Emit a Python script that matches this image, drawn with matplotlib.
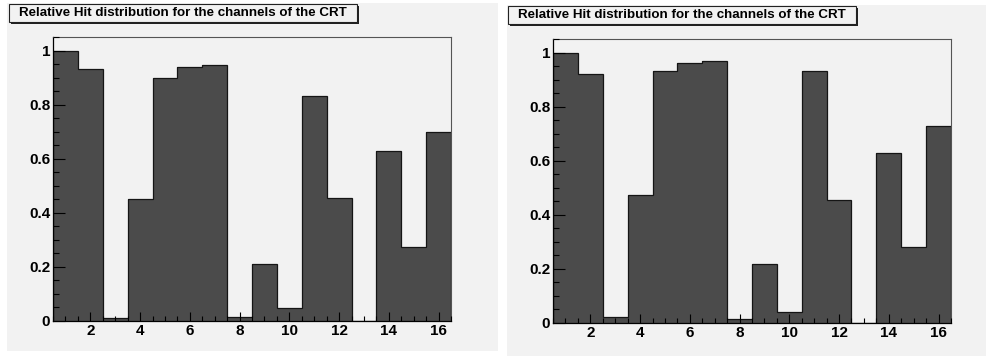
import matplotlib
matplotlib.use("Agg")
import matplotlib.pyplot as plt
import numpy as np
from matplotlib.patches import Rectangle
from matplotlib.ticker import MultipleLocator, FuncFormatter

plt.rcParams["font.family"] = ["Liberation Sans", "DejaVu Sans"]
plt.rcParams["font.weight"] = "bold"

W, H = 986, 356

title = "Relative Hit distribution for the channels of the CRT"
channels = np.arange(1, 17)
edges = np.arange(0.5, 17.0, 1.0)

# relative hits per CRT channel, two runs
hits_left = [1.0, 0.931, 0.012, 0.45, 0.90, 0.94, 0.947, 0.015,
             0.209, 0.047, 0.831, 0.454, 0.0, 0.627, 0.273, 0.699]
hits_right = [1.0, 0.922, 0.022, 0.475, 0.931, 0.963, 0.968, 0.014,
              0.217, 0.042, 0.930, 0.454, 0.0, 0.630, 0.282, 0.730]

PAD_BG = "#f2f2f2"
FILL = "#4b4b4b"


def px_rect(fig, x0, y0, x1, y1, **kw):
    # rectangle given in pixel coords, origin top-left
    r = Rectangle((x0 / W, 1 - y1 / H), (x1 - x0) / W, (y1 - y0) / H,
                  transform=fig.transFigure, **kw)
    fig.patches.append(r)
    return r


def title_box(fig, x0, y0, x1, y1, text):
    px_rect(fig, x0 + 2, y0 + 2, x1 + 2, y1 + 2, facecolor="#222222",
            edgecolor="none", zorder=1)
    px_rect(fig, x0, y0, x1, y1, facecolor=PAD_BG, edgecolor="#222222",
            linewidth=0.8, zorder=2)
    fig.text((x0 + x1) / 2 / W, 1 - (y0 + y1) / 2 / H, text,
             ha="center", va="center", fontsize=9.6, fontweight="bold",
             color="black", zorder=3)


def draw_hist(fig, box, values):
    x0, y0, x1, y1 = box
    ax = fig.add_axes([x0 / W, 1 - y1 / H, (x1 - x0) / W, (y1 - y0) / H])
    ax.set_facecolor(PAD_BG)
    ax.stairs(values, edges, fill=True, color=FILL, zorder=1)
    ax.stairs(values, edges, color="#151515", linewidth=0.9, zorder=1.2)
    ax.set_axisbelow(False)
    ax.set_xlim(edges[0], edges[-1])
    ax.set_ylim(0, 1.05 * max(values))

    ax.xaxis.set_major_locator(MultipleLocator(2))
    ax.xaxis.set_minor_locator(MultipleLocator(0.5))
    ax.yaxis.set_major_locator(MultipleLocator(0.2))
    ax.yaxis.set_minor_locator(MultipleLocator(0.05))
    ax.yaxis.set_major_formatter(FuncFormatter(lambda v, p: "%g" % round(v, 2)))

    ax.tick_params(axis="x", which="major", direction="in", length=6.5,
                   width=0.8, pad=2, labelsize=11, color="black")
    ax.tick_params(axis="x", which="minor", direction="in", length=3.5,
                   width=0.8, color="black")
    ax.tick_params(axis="y", which="major", direction="in", length=8.5,
                   width=0.8, pad=2, labelsize=11, color="black")
    ax.tick_params(axis="y", which="minor", direction="in", length=4.3,
                   width=0.8, color="black")
    for lab in ax.get_xticklabels() + ax.get_yticklabels():
        lab.set_fontweight("bold")

    for side in ("left", "bottom"):
        ax.spines[side].set_color("black")
        ax.spines[side].set_linewidth(0.9)
    for side in ("top", "right"):
        ax.spines[side].set_color("#555555")
        ax.spines[side].set_linewidth(0.8)
    ax.set_zorder(5)
    return ax


fig = plt.figure(figsize=(W / 100, H / 100), dpi=100)
fig.patch.set_facecolor("white")

# two pads
px_rect(fig, 7, 3, 498, 351, facecolor=PAD_BG, edgecolor="none", zorder=0)
px_rect(fig, 507, 5, 986, 356, facecolor=PAD_BG, edgecolor="none", zorder=0)

draw_hist(fig, (53, 37, 451, 321), hits_left)
draw_hist(fig, (553, 39, 951, 323), hits_right)

title_box(fig, 9, 4, 357, 22, title)
title_box(fig, 508, 6, 856, 24, title)

fig.savefig("out.png", dpi=100, facecolor=fig.get_facecolor())
